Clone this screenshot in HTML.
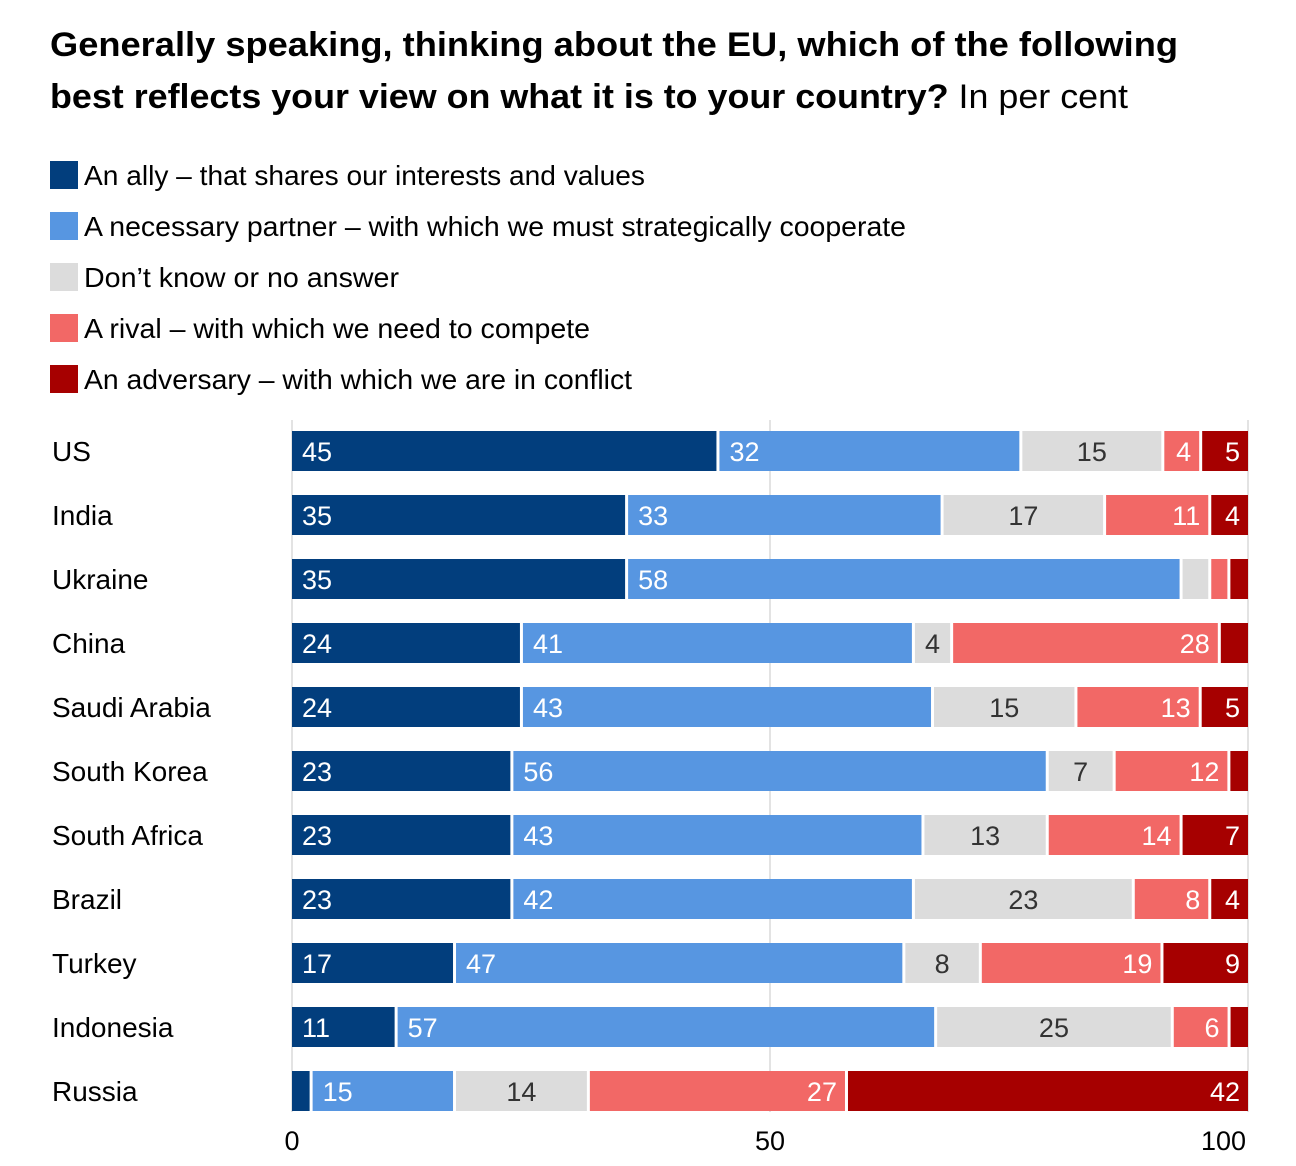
<!DOCTYPE html>
<html><head><meta charset="utf-8"><style>
html,body{margin:0;padding:0;background:#fff;}
svg{display:block;font-family:"Liberation Sans",sans-serif;}
</style></head><body>
<svg id="chart" width="1296" height="1166" viewBox="0 0 1296 1166">
<g>
<text x="50" y="56" font-size="34" font-weight="bold" fill="#000" textLength="1128" lengthAdjust="spacingAndGlyphs">Generally speaking, thinking about the EU, which of the following</text>
<text x="50" y="108" font-size="34" fill="#000" textLength="1078" lengthAdjust="spacingAndGlyphs"><tspan font-weight="bold">best reflects your view on what it is to your country?</tspan> In per cent</text>
</g>
<g id="legend"></g>
<g id="grid"></g>
<g id="bars"></g>
<g id="xaxis"></g>
</svg>
<script>
const categories=["US","India","Ukraine","China","Saudi Arabia","South Korea","South Africa","Brazil","Turkey","Indonesia","Russia"];
const seriesNames=["An ally – that shares our interests and values","A necessary partner – with which we must strategically cooperate","Don’t know or no answer","A rival – with which we need to compete","An adversary – with which we are in conflict"];
const ally=[45,35,35,24,24,23,23,23,17,11,2];
const partner=[32,33,58,41,43,56,43,42,47,57,15];
const dontKnow=[15,17,3,4,15,7,13,23,8,25,14];
const rival=[4,11,2,28,13,12,14,8,19,6,27];
const adversary=[5,4,2,3,5,2,7,4,9,2,42];
const xTicks=[0,50,100];

const colors=["#023e7d","#5796e1","#dcdcdc","#f26866","#a60000"];
const series=[ally,partner,dontKnow,rival,adversary];
const NS="http://www.w3.org/2000/svg";
const X0=292,X1=1248,rowTop=431,rowStep=64,barH=40;
const x=v=>X0+(X1-X0)*v/100;
function mk(tag,attrs,parent){const e=document.createElementNS(NS,tag);for(const k in attrs)e.setAttribute(k,attrs[k]);parent.appendChild(e);return e;}

const legend=document.getElementById('legend');
const legW=[561,822,315,506,548];
seriesNames.forEach((n,i)=>{
  const y=161+i*51;
  const r=mk('rect',{x:50,y:y,width:28,height:28,fill:colors[i]},legend);
  
  
  const t=mk('text',{x:84,y:y+24,'font-size':28,fill:'#000',textLength:legW[i],lengthAdjust:'spacingAndGlyphs'},legend);
  t.textContent=n;
  
  
});

const grid=document.getElementById('grid');
xTicks.forEach(v=>{
  const l=mk('line',{x1:x(v),x2:x(v),y1:420,y2:1112,stroke:'#e3e3e3','stroke-width':2},grid);
  
  
});

const bars=document.getElementById('bars');
categories.forEach((c,r)=>{
  const y=rowTop+r*rowStep;
  const lab=mk('text',{x:52,y:y+30,'font-size':28,fill:'#000'},bars);
  lab.textContent=c;
  
  
  const vals=series.map(s=>s[r]);
  const sum=vals.reduce((a,b)=>a+b,0);
  let acc=0;
  vals.forEach((v,i)=>{
    const a=x(acc/sum*100),b=x((acc+v)/sum*100);acc+=v;
    const left=i===0?a:a+1.5,right=i===4?b:b-1.5;
    const rect=mk('rect',{x:left,y:y,width:Math.max(0,right-left),height:barH,fill:colors[i]},bars);
    
    
    if(right-left<32)return;
    let tx,anchor;
    if(i<2){tx=left+10;anchor='start';}
    else if(i===2){tx=(left+right)/2;anchor='middle';}
    else{tx=right-8;anchor='end';}
    const t=mk('text',{x:tx,y:y+30,'font-size':27,fill:i===2?'#333':'#fff','text-anchor':anchor},bars);
    t.textContent=v;
    
    
  });
});

const xa=document.getElementById('xaxis');
xTicks.forEach((v,i)=>{
  const t=mk('text',{x:i===2?1246:x(v),y:1150,'font-size':27,fill:'#000','text-anchor':i===2?'end':'middle'},xa);
  t.textContent=v;
  
  
});
</script>
</body></html>
